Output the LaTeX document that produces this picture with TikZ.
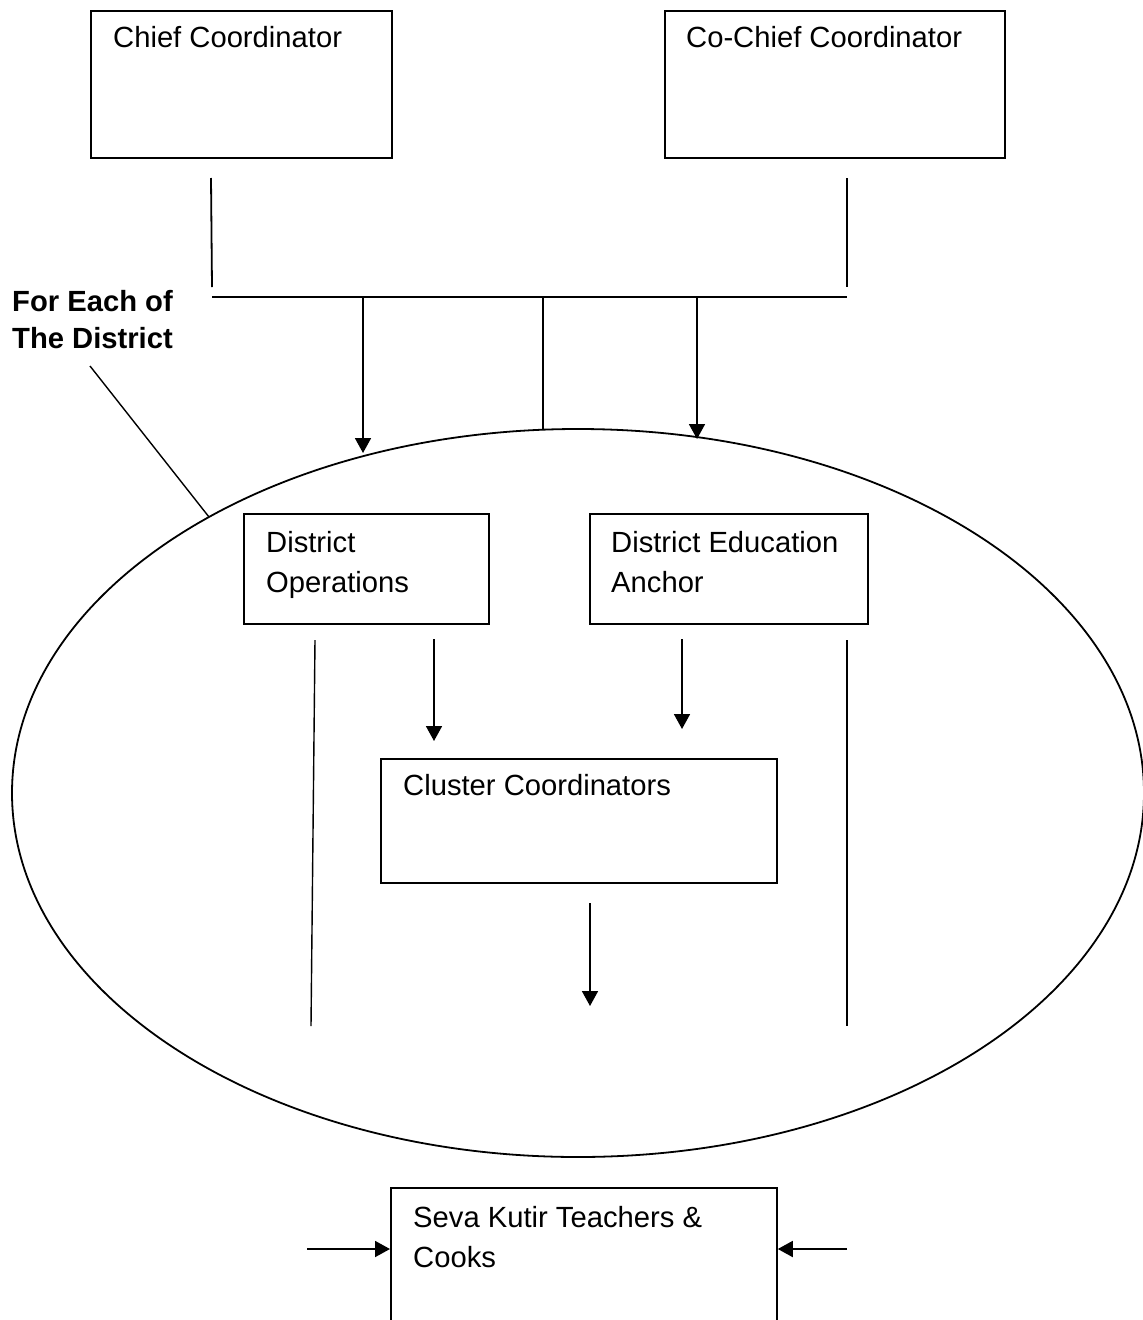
\documentclass[tikz,border=0pt]{standalone}
\usepackage{fontspec}
\setmainfont{Liberation Sans}
\usetikzlibrary{arrows.meta,shapes.geometric}
\begin{document}
\begin{tikzpicture}[x=1pt,y=-1pt,
  box/.style={draw, line width=1.8pt, rectangle, inner sep=0pt, anchor=north west},
  txt/.style={anchor=base west, inner sep=0pt, font=\fontsize{29.2pt}{40pt}\selectfont},
  btxt/.style={txt, font=\fontsize{29.2pt}{40pt}\selectfont\bfseries},
  ln/.style={line width=1.8pt},
  thin/.style={line width=1.4pt},
  arr/.style={line width=1.8pt, -{Triangle[width=16pt,length=15pt]}},
]
\clip (0,0) rectangle (1143,1320);
\fill[white] (0,0) rectangle (1143,1320);

% boxes
\node[box, minimum width=301pt, minimum height=147pt] (chief) at (90,10) {};
\node[box, minimum width=340pt, minimum height=147pt] (cochief) at (664,10) {};
\node[box, minimum width=245pt, minimum height=110pt] (dops) at (243,513) {};
\node[box, minimum width=278pt, minimum height=110pt] (dedu) at (589,513) {};
\node[box, minimum width=396pt, minimum height=124pt] (cluster) at (380,758) {};
\node[box, minimum width=386pt, minimum height=150pt] (seva) at (390,1187) {};

% district ellipse
\node[draw, line width=1.8pt, ellipse, inner sep=0pt, minimum width=1132pt, minimum height=728pt] (district) at (578,793) {};

% texts
\node[txt] (tchief) at (113,47) {Chief Coordinator};
\node[txt] (tcochief) at (686,47) {Co-Chief Coordinator};
\node[btxt] (tfor1) at (12,311) {For Each of};
\node[btxt] (tfor2) at (12,348) {The District};
\node[txt] (tdops1) at (266,552) {District};
\node[txt] (tdops2) at (266,592) {Operations};
\node[txt] (tdedu1) at (611,552) {District Education};
\node[txt] (tdedu2) at (611,592) {Anchor};
\node[txt] (tcluster) at (403,795) {Cluster Coordinators};
\node[txt] (tseva1) at (413,1227) {Seva Kutir Teachers \&};
\node[txt] (tseva2) at (413,1267) {Cooks};

% coordinates for free connector ends
\coordinate (c1a) at (211,178);  \coordinate (c1b) at (212,287);
\coordinate (c2a) at (847,178);  \coordinate (c2b) at (847,287);
\coordinate (hl) at (212,297);   \coordinate (hr) at (847,297);
\coordinate (a1s) at (363,297);  \coordinate (a1e) at (363,453);
\coordinate (a2s) at (543,297);  \coordinate (a2e) at (543,430);
\coordinate (a3s) at (697,297);  \coordinate (a3e) at (697,439);
\coordinate (l1a) at (315,640);  \coordinate (l1b) at (311,1026);
\coordinate (l2a) at (847,640);  \coordinate (l2b) at (847,1026);
\coordinate (d1s) at (434,639);  \coordinate (d1e) at (434,741);
\coordinate (d2s) at (682,639);  \coordinate (d2e) at (682,729);
\coordinate (cs) at (590,903);   \coordinate (ce) at (590,1006);
\coordinate (sl) at (307,1249);  \coordinate (sr) at (847,1249);
\coordinate (lead1) at (90,366); \coordinate (lead2) at (209,517);

% connectors
\draw[ln] (c1a) -- (c1b);
\draw[ln] (c2a) -- (c2b);
\draw[ln] (hl) -- (hr);
\draw[arr] (a1s) -- (a1e);
\draw[ln] (a2s) -- (a2e);
\draw[arr] (a3s) -- (a3e);
\draw[thin] (l1a) -- (l1b);
\draw[thin] (l2a) -- (l2b);
\draw[arr] (d1s) -- (d1e);
\draw[arr] (d2s) -- (d2e);
\draw[arr] (cs) -- (ce);
\draw[arr] (sl) -- (sl -| seva.west);
\draw[arr] (sr) -- (sr -| seva.east);
\draw[thin] (lead1) -- (lead2);
\end{tikzpicture}
\end{document}
